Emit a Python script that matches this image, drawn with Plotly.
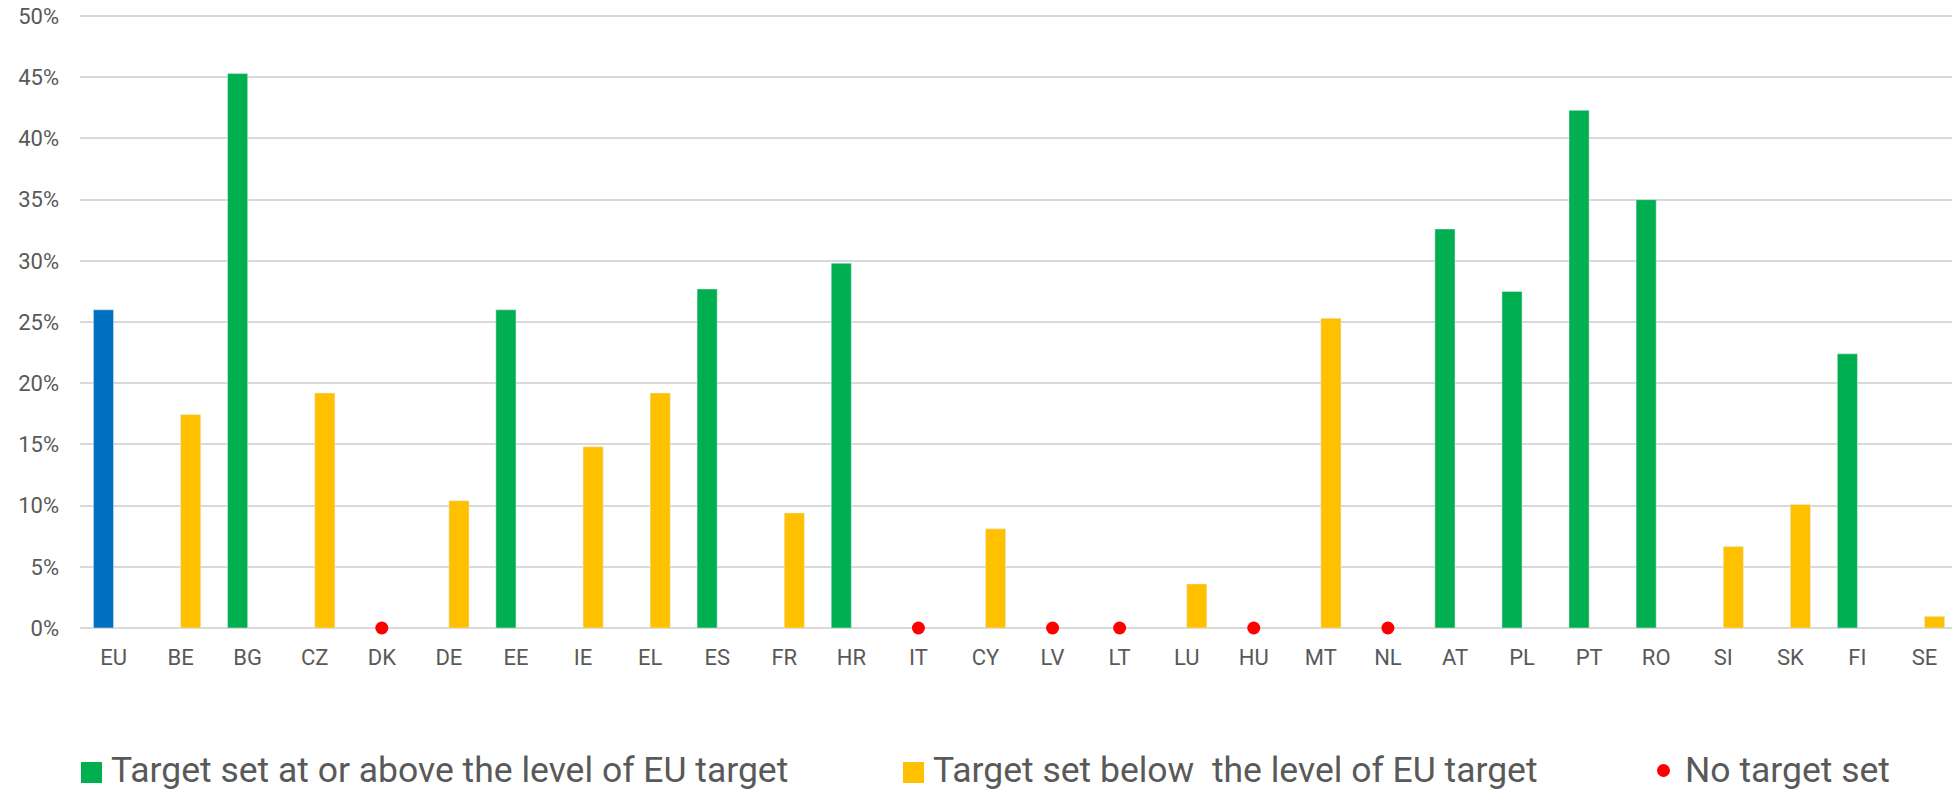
import plotly.graph_objects as go

countries = ["EU", "BE", "BG", "CZ", "DK", "DE", "EE", "IE", "EL", "ES", "FR", "HR", "IT", "CY",
             "LV", "LT", "LU", "HU", "MT", "NL", "AT", "PL", "PT", "RO", "SI", "SK", "FI", "SE"]

# target at or above EU level (EU itself drawn in blue)
above = [26.0, None, 45.3, None, None, None, 26.0, None, None, 27.7, None, 29.8, None, None,
         None, None, None, None, None, None, 32.6, 27.5, 42.3, 35.0, None, None, 22.4, None]
# target below EU level
below = [None, 17.45, None, 19.2, None, 10.4, None, 14.8, 19.2, None, 9.4, None, None, 8.1,
         None, None, 3.6, None, 25.3, None, None, None, None, None, 6.65, 10.1, None, 0.95]
# no target set
no_target = ["DK", "IT", "LV", "LT", "HU", "NL"]

y_ticks = [0, 5, 10, 15, 20, 25, 30, 35, 40, 45, 50]

legend_names = ["Target set at or above the level of EU target",
                "Target set below\u00a0 the level of EU target",
                "No target set"]

GREEN = "#00B050"
YELLOW = "#FFC000"
BLUE = "#0070C0"
RED = "#FF0000"
TXT = "#595959"
FONT = "Roboto"

above_frac = [v / 100 if v is not None else None for v in above]
below_frac = [v / 100 if v is not None else None for v in below]
above_colors = [BLUE if c == "EU" else GREEN for c in countries]

fig = go.Figure()
fig.add_trace(go.Bar(x=countries, y=above_frac, marker_color=above_colors,
                     width=0.3, offset=-0.3, name=legend_names[0]))
fig.add_trace(go.Bar(x=countries, y=below_frac, marker_color=YELLOW,
                     width=0.3, offset=0.0, name=legend_names[1]))
fig.add_trace(go.Scatter(x=no_target, y=[0] * len(no_target), mode="markers",
                         marker=dict(color=RED, size=13), cliponaxis=False,
                         name=legend_names[2]))

# plot top sits 3px above the 50% line so plotly keeps that gridline
W, H = 1952, 790
L, R, T, B = 80, 1952, 13, 628
def px(x):
    return (x - L) / (R - L)
def py(y):
    return (B - y) / (B - T)

# hand-made legend (bigger squares than plotly's own legend draws)
shapes = [
    dict(type="rect", xref="paper", yref="paper", x0=px(81), x1=px(102), y0=py(762), y1=py(783),
         fillcolor=GREEN, line_width=0),
    dict(type="rect", xref="paper", yref="paper", x0=px(903), x1=px(924), y0=py(762), y1=py(783),
         fillcolor=YELLOW, line_width=0),
    dict(type="circle", xref="paper", yref="paper", x0=px(1657), x1=px(1670), y0=py(764), y1=py(777),
         fillcolor=RED, line_width=0),
]
annotations = [
    dict(xref="paper", yref="paper", x=px(x0), y=py(770), text=t, showarrow=False,
         xanchor="left", yanchor="middle", font=dict(size=35.5, color=TXT, family=FONT))
    for x0, t in zip([109, 931, 1683], legend_names)
]

fig.update_layout(
    width=W, height=H,
    margin=dict(l=L, r=W - R, t=T, b=H - B),
    plot_bgcolor="white", paper_bgcolor="white",
    showlegend=False,
    font=dict(family=FONT, color=TXT, size=22),
    shapes=shapes, annotations=annotations,
    xaxis=dict(type="category", range=[-0.5, 27.41], showgrid=False, showline=False,
               ticks="", tickfont=dict(size=22, color=TXT), ticklabelstandoff=14),
    yaxis=dict(range=[0, 0.5025], tickmode="array", tickvals=[t / 100 for t in y_ticks],
               tickformat=".0%", showgrid=True,
               gridcolor="#D9D9D9", gridwidth=1.5, zeroline=True, zerolinecolor="#D9D9D9",
               zerolinewidth=1.5, showline=False, ticks="", tickfont=dict(size=22, color=TXT),
               ticklabelstandoff=20),
)

# drop the browser's default 8px body margin so the figure fills the window
fig.write_html("out.html", config={"displayModeBar": False},
               post_script="document.body.style.margin = '0';")
